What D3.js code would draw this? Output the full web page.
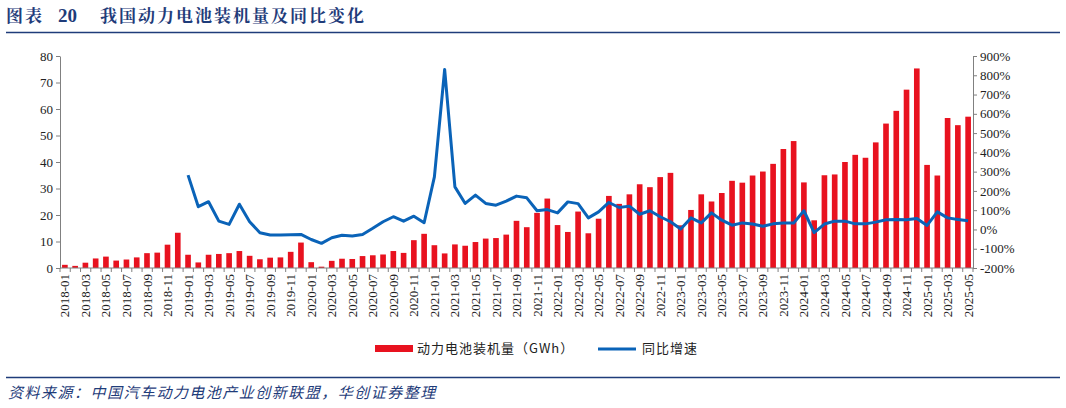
<!DOCTYPE html>
<html><head><meta charset="utf-8">
<script src="https://cdn.jsdelivr.net/npm/d3@7"></script>
<style>body{margin:0;background:#fff}svg{display:block}</style>
</head><body><svg id="c" width="1066" height="408"></svg>
<script>
const months = [];
for (let y = 2018; y <= 2025; y++) for (let m = 1; m <= 12; m++) { if (y === 2025 && m > 5) break; months.push(y + "-" + String(m).padStart(2, "0")); }
const installed = [1.2,0.8,2.0,3.6,4.3,2.8,3.2,4.0,5.6,5.8,8.8,13.3,
 5.0,2.1,5.0,5.3,5.6,6.4,4.6,3.3,3.9,4.0,6.1,9.6,
 2.2,0.5,2.7,3.5,3.4,4.5,4.8,5.1,6.4,5.7,10.5,12.9,
 8.6,5.5,8.9,8.4,9.8,11.1,11.3,12.6,17.8,15.4,20.8,26.2,
 16.2,13.6,21.3,13.1,18.6,27.2,24.2,27.8,31.6,30.5,34.3,35.9,
 16.1,21.9,27.8,25.1,28.3,32.9,32.2,34.9,36.4,39.3,44.9,47.9,
 32.3,18.0,35.0,35.3,40.0,42.7,41.6,47.4,54.5,59.3,67.3,75.3,
 38.9,34.9,56.6,53.9,57.1];
const yoy = [null,null,null,null,null,null,null,null,null,null,null,null,
 282,118,144,43,26,131,40,-17,-29,-29,-28,-26,
 -52,-72,-43,-30,-34,-26,6,40,66,43,69,35,
 273,830,221,135,178,135,126,147,173,164,97,103,
 86,143,134,60,91,140,114,121,79,97,66,40,
 2,60,34,86,48,22,34,28,17,29,33,33,
 97,-16,28,43,43,29,29,38,50,52,50,57,
 21,91,60,52,45];
const leftTicks = [0,10,20,30,40,50,60,70,80];
const rightTicks = [-200,-100,0,100,200,300,400,500,600,700,800,900];

const svg = d3.select("#c");
const L = 60, R = 973, T = 56, B = 268;
const x = d3.scaleBand().domain(months).range([L, R]).paddingInner(0.45).paddingOuter(0.2);
const yL = d3.scaleLinear().domain([0, 80]).range([B, T]);
const yR = d3.scaleLinear().domain([-200, 900]).range([B, T]);
const serif = "'Liberation Serif', 'DejaVu Serif', serif";
const cjk = "'Noto Sans CJK SC', sans-serif";
const navy = "#1f3c7a";

const tt = svg.append("g").attr("fill", navy).style("font-family", "'Noto Serif CJK SC','Noto Sans CJK SC',serif").style("font-weight", "bold").style("font-size", "17px");
tt.append("text").attr("x", 6).attr("y", 22).attr("letter-spacing", 2).text("图表");
tt.append("text").attr("x", 58).attr("y", 22).style("font-family", serif).style("font-size", "19px").text("20");
tt.append("text").attr("x", 100).attr("y", 22).attr("letter-spacing", 2).text("我国动力电池装机量及同比变化");
svg.append("line").attr("x1", 6).attr("x2", 1060).attr("y1", 32.5).attr("y2", 32.5).attr("stroke", navy).attr("stroke-width", 1.5);
svg.append("line").attr("x1", 6).attr("x2", 1060).attr("y1", 377.5).attr("y2", 377.5).attr("stroke", navy).attr("stroke-width", 1.5);
svg.append("text").attr("transform", "translate(8,398) skewX(-14)").attr("fill", navy).style("font-family", cjk).style("font-size", "15px").attr("letter-spacing", 1.5)
  .text("资料来源：中国汽车动力电池产业创新联盟，华创证券整理");

svg.append("g").selectAll("rect").data(months).join("rect")
  .attr("x", d => x(d)).attr("width", x.bandwidth())
  .attr("y", (d, i) => yL(installed[i])).attr("height", (d, i) => B - yL(installed[i]))
  .attr("fill", "#e8121f");

const line = d3.line().defined(d => d.v !== null).x(d => x(d.m) + x.bandwidth() / 2).y(d => yR(d.v));
svg.append("path").datum(months.map((m, i) => ({ m, v: yoy[i] })))
  .attr("d", line).attr("fill", "none").attr("stroke", "#0a63b8").attr("stroke-width", 3).attr("stroke-linejoin", "round");

const axL = svg.append("g").attr("transform", `translate(${L},0)`).call(d3.axisLeft(yL).tickValues(leftTicks).tickSize(4).tickSizeOuter(0));
const axR = svg.append("g").attr("transform", `translate(${R},0)`).call(d3.axisRight(yR).tickValues(rightTicks).tickFormat(d => d + "%").tickSize(4).tickSizeOuter(0));
const axB = svg.append("g").attr("transform", `translate(0,${B})`)
  .call(d3.axisBottom(x).tickValues(months.filter((d, i) => i % 2 === 0)).tickSize(0));
axB.select(".domain").remove();
axB.append("line").attr("x1", L).attr("x2", R).attr("stroke", "#808080");
axB.selectAll(".tk").data(months.concat(["end"])).join("line").attr("class", "tk")
  .attr("x1", (d, i) => L + i * (R - L) / months.length).attr("x2", (d, i) => L + i * (R - L) / months.length)
  .attr("y1", 0).attr("y2", 4).attr("stroke", "#808080");
axB.selectAll(".tick text").attr("transform", "rotate(-90)").attr("text-anchor", "end").attr("x", -6).attr("y", 0).attr("dy", "0.35em");
[axL, axR, axB].forEach(a => {
  a.attr("font-family", null);
  a.selectAll(".domain,.tick line").attr("stroke", "#808080");
  a.selectAll("text").style("font-family", serif).style("font-size", "13px").attr("fill", "#222");
});

const lg = svg.append("g").style("font-family", cjk).style("font-size", "13px").attr("fill", "#222");
lg.append("rect").attr("x", 375).attr("y", 345).attr("width", 38).attr("height", 7).attr("fill", "#e8121f");
lg.append("text").attr("x", 417).attr("y", 353).attr("letter-spacing", 1).text("动力电池装机量（GWh）");
lg.append("line").attr("x1", 598).attr("x2", 636).attr("y1", 349).attr("y2", 349).attr("stroke", "#0a63b8").attr("stroke-width", 3);
lg.append("text").attr("x", 642).attr("y", 353).attr("letter-spacing", 1).text("同比增速");
</script></body></html>
